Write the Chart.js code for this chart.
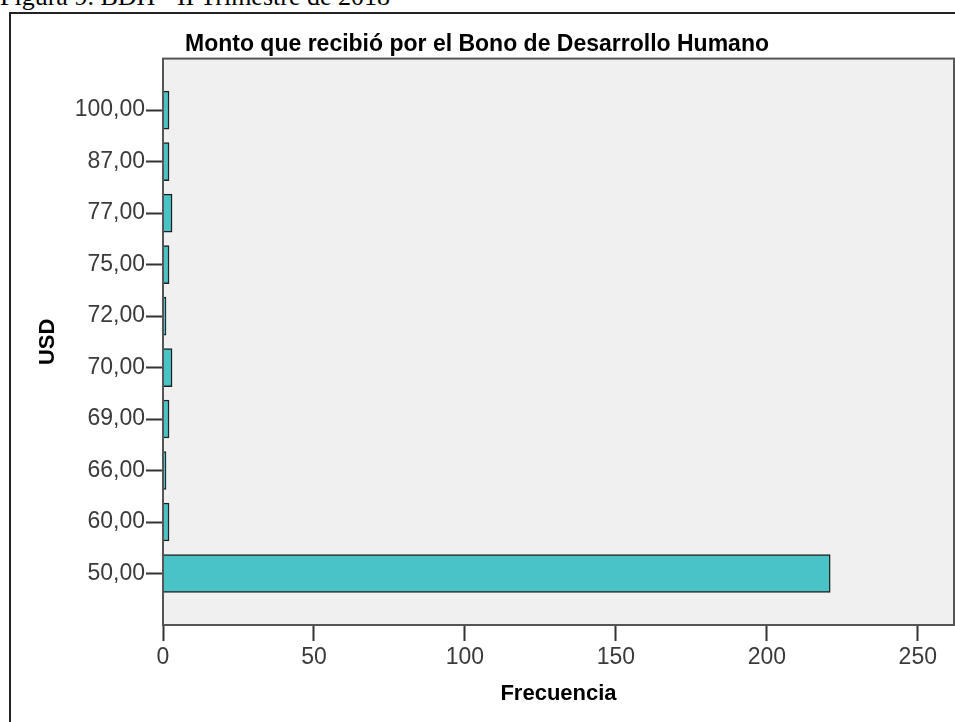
<!DOCTYPE html>
<html>
<head>
<meta charset="utf-8">
<script src="https://cdn.jsdelivr.net/npm/chart.js@4"></script>
<style>
  html, body { margin: 0; padding: 0; background: #fff; overflow: hidden; }
  #caption {
    position: absolute; left: 0; top: -16px;
    font-family: "Liberation Serif", "Times New Roman", serif;
    font-size: 26px; line-height: 26px; color: #000; white-space: nowrap;
  }
  #frame {
    position: absolute; left: 9px; top: 12px; width: 1000px; height: 800px;
    border: 2px solid #222; box-sizing: border-box;
  }
  #wrap { position: absolute; left: 0; top: 0; width: 955px; height: 722px; }
</style>
</head>
<body>
<div id="caption">Figura 9.  BDH - II Trimestre de 2018</div>
<div id="frame"></div>
<div id="wrap"><canvas id="barChart"></canvas></div>
<script>
// USD amounts, top to bottom as in the chart
const montos = ["100,00", "87,00", "77,00", "75,00", "72,00", "70,00", "69,00", "66,00", "60,00", "50,00"];
const frecuencia = [2, 2, 3, 2, 1, 3, 2, 1, 2, 221];
const xTicks = [0, 50, 100, 150, 200, 250];

// blank slot above and below, like SPSS leaves
const labels = [""].concat(montos, [""]);
const values = [null].concat(frecuencia, [null]);

const plotFrame = {
  id: "plotFrame",
  beforeDraw(chart) {
    const { ctx, chartArea: a } = chart;
    ctx.save();
    ctx.fillStyle = "#f0f0f0";
    ctx.fillRect(a.left, a.top, a.right - a.left, a.bottom - a.top);
    ctx.restore();
  },
  afterDraw(chart) {
    const { ctx, chartArea: a } = chart;
    ctx.save();
    ctx.strokeStyle = "#555";
    ctx.lineWidth = 2;
    ctx.strokeRect(a.left, a.top, a.right - a.left, a.bottom - a.top);
    ctx.restore();
  }
};

Chart.defaults.font.family = "'Liberation Sans', Arial, sans-serif";
Chart.defaults.animation = false;

new Chart(document.getElementById("barChart"), {
  type: "bar",
  data: {
    labels: labels,
    datasets: [{
      label: "Frecuencia",
      data: values,
      backgroundColor: "#49c3c6",
      borderColor: "#222",
      borderWidth: 1.5,
      barThickness: 38
    }]
  },
  options: {
    indexAxis: "y",
    responsive: true,
    maintainAspectRatio: false,
    layout: { padding: { top: 0, right: 1, bottom: 0, left: 0 } },
    plugins: {
      legend: { display: false },
      tooltip: { enabled: false },
      title: {
        display: true,
        text: "Monto que recibió por el Bono de Desarrollo Humano",
        color: "#000",
        font: { size: 23, weight: "bold" },
        padding: { top: 31, bottom: 0 }
      }
    },
    scales: {
      y: {
        type: "category",
        offset: false,
        afterFit(s) { s.width = 163; },
        grid: {
          offset: false,
          drawOnChartArea: false,
          tickLength: 17,
          tickWidth: 2,
          tickColor: (c) => (c.index === 0 || c.index === labels.length - 1) ? "rgba(0,0,0,0)" : "#333"
        },
        border: { display: true, color: "#555", width: 2 },
        ticks: {
          color: "#3a3a3a",
          padding: 1,
          font: { size: 23 },
          autoSkip: false
        },
        title: {
          display: true,
          text: "USD",
          color: "#000",
          font: { size: 22, weight: "bold" },
          padding: { top: 35, bottom: 0 }
        }
      },
      x: {
        min: 0,
        max: 262,
        afterFit(s) { s.height = 97; },
        afterBuildTicks(s) { s.ticks = xTicks.map(v => ({ value: v })); },
        grid: {
          drawOnChartArea: false,
          tickLength: 16,
          tickWidth: 2,
          tickColor: "#333"
        },
        border: { display: true, color: "#555", width: 2 },
        ticks: {
          color: "#3a3a3a",
          padding: 3,
          font: { size: 23 }
        },
        title: {
          display: true,
          text: "Frecuencia",
          color: "#000",
          font: { size: 22, weight: "bold" },
          padding: { top: 0, bottom: 15 }
        }
      }
    }
  },
  plugins: [plotFrame]
});
</script>
</body>
</html>
